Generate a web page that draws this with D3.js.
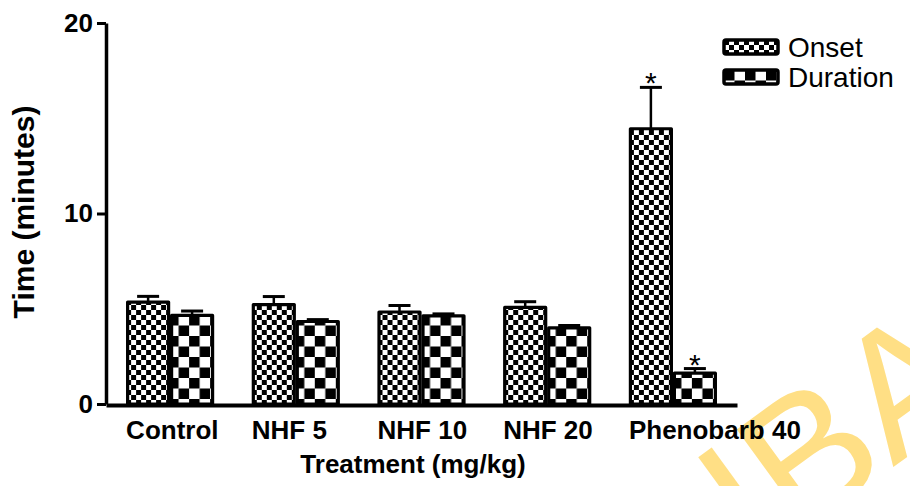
<!DOCTYPE html>
<html>
<head>
<meta charset="utf-8">
<script src="https://cdn.jsdelivr.net/npm/d3@7"></script>
<style>
  body { margin: 0; background: #fff; }
  svg { display: block; font-family: "Liberation Sans", Arial, sans-serif; }
</style>
</head>
<body>
<div id="chart-area"></div>
<script>
// data
var categories = ["Control", "NHF 5", "NHF 10", "NHF 20", "Phenobarb 40"];
var seriesNames = ["Onset", "Duration"];
var onset = [5.35, 5.22, 4.83, 5.07, 14.45];
var onsetErr = [0.3, 0.42, 0.34, 0.3, 2.17];
var duration = [4.65, 4.33, 4.63, 4.0, 1.62];
var durationErr = [0.23, 0.1, 0.1, 0.12, 0.24];
var onsetSig = ["", "", "", "", "*"];
var durationSig = ["", "", "", "", "*"];
var yTicks = [0, 10, 20];

var W = 910, H = 486;

var svg = d3.select("#chart-area")
    .append("svg")
    .attr("width", W)
    .attr("height", H);

// checkerboard patterns
var defs = svg.append("defs");
function checker(id, s) {
    var p = defs.append("pattern")
        .attr("id", id)
        .attr("patternUnits", "userSpaceOnUse")
        .attr("width", s * 2)
        .attr("height", s * 2);
    p.append("rect").attr("width", s * 2).attr("height", s * 2).attr("fill", "#fff");
    p.append("rect").attr("width", s).attr("height", s).attr("fill", "#000");
    p.append("rect").attr("x", s).attr("y", s).attr("width", s).attr("height", s).attr("fill", "#000");
}
checker("pat-onset", 5);
checker("pat-duration", 10.5);
var patterns = { Onset: "url(#pat-onset)", Duration: "url(#pat-duration)" };

// watermark (partly off the page, as in the original)
svg.append("text")
    .attr("transform", "translate(757,566) rotate(-36)")
    .attr("font-size", 178)
    .attr("fill", "#FFDF85")
    .text("IBA");

// SCALES
var x = d3.scaleBand()
    .domain(categories)
    .range([106, 737])
    .paddingInner(0.3)
    .paddingOuter(0.16);

var xs = d3.scaleBand()
    .domain(seriesNames)
    .range([0, x.bandwidth()]);

var y = d3.scaleLinear()
    .domain([0, 20])
    .range([404, 23]);

var rows = categories.map(function (c, i) {
    return [
        { cat: c, key: "Onset", v: onset[i], e: onsetErr[i], sig: onsetSig[i] },
        { cat: c, key: "Duration", v: duration[i], e: durationErr[i], sig: durationSig[i] }
    ];
});

var groups = svg.selectAll("g.grp")
    .data(rows)
    .enter()
    .append("g")
    .attr("class", "grp")
    .attr("transform", function (d) { return "translate(" + x(d[0].cat) + ",0)"; });

var bars = groups.selectAll("g.bar")
    .data(function (d) { return d; })
    .enter()
    .append("g")
    .attr("class", "bar");

// error bars (upper only)
bars.append("line")
    .attr("x1", function (d) { return xs(d.key) + xs.bandwidth() / 2; })
    .attr("x2", function (d) { return xs(d.key) + xs.bandwidth() / 2; })
    .attr("y1", function (d) { return y(d.v); })
    .attr("y2", function (d) { return y(d.v + d.e); })
    .attr("stroke", "#000")
    .attr("stroke-width", 2.5);
bars.append("line")
    .attr("x1", function (d) { return xs(d.key) + xs.bandwidth() / 2 - 11; })
    .attr("x2", function (d) { return xs(d.key) + xs.bandwidth() / 2 + 11; })
    .attr("y1", function (d) { return y(d.v + d.e); })
    .attr("y2", function (d) { return y(d.v + d.e); })
    .attr("stroke", "#000")
    .attr("stroke-width", 3);

bars.append("rect")
    .attr("x", function (d) { return xs(d.key) + 1.5; })
    .attr("y", function (d) { return y(d.v); })
    .attr("width", xs.bandwidth() - 3)
    .attr("height", function (d) { return y(0) - y(d.v); })
    .attr("fill", function (d) { return patterns[d.key]; })
    .attr("stroke", "#000")
    .attr("stroke-width", 3.2)
    .attr("stroke-linejoin", "round");

bars.filter(function (d) { return d.sig; })
    .append("text")
    .attr("x", function (d) { return xs(d.key) + xs.bandwidth() / 2; })
    .attr("y", function (d) { return y(d.v + d.e) + 6; })
    .attr("text-anchor", "middle")
    .attr("font-size", 30)
    .text(function (d) { return d.sig; });

// AXES
var yAxis = svg.append("g")
    .attr("transform", "translate(106,0)")
    .call(d3.axisLeft(y).tickValues(yTicks).tickSize(9).tickSizeOuter(0).tickPadding(4));
yAxis.select(".domain").attr("stroke-width", 3.5);
yAxis.selectAll(".tick line").attr("stroke-width", 3);
yAxis.selectAll(".tick text")
    .attr("font-size", 26)
    .attr("font-weight", "bold")
    .attr("font-family", "Liberation Sans, Arial, sans-serif")
    .attr("fill", "#000");

var xAxis = svg.append("g")
    .attr("transform", "translate(0,405)")
    .call(d3.axisBottom(x).tickSize(0).tickSizeOuter(0));
xAxis.select(".domain").attr("stroke-width", 4);
xAxis.selectAll(".tick text")
    .attr("text-anchor", "start")
    .attr("x", -x.bandwidth() / 2)
    .attr("y", 34)
    .attr("dy", 0)
    .attr("font-size", 26)
    .attr("font-weight", "bold")
    .attr("font-family", "Liberation Sans, Arial, sans-serif")
    .attr("fill", "#000");

// axis titles
svg.append("text")
    .attr("x", 413)
    .attr("y", 473)
    .attr("text-anchor", "middle")
    .attr("font-size", 26)
    .attr("font-weight", "bold")
    .text("Treatment (mg/kg)");

svg.append("text")
    .attr("transform", "translate(34,212) rotate(-90)")
    .attr("text-anchor", "middle")
    .attr("font-size", 30)
    .attr("font-weight", "bold")
    .text("Time (minutes)");

// LEGEND
var legend = svg.selectAll("g.leg")
    .data(seriesNames)
    .enter()
    .append("g")
    .attr("class", "leg")
    .attr("transform", function (d, i) { return "translate(724," + (40 + i * 30) + ")"; });
legend.append("rect")
    .attr("width", 54)
    .attr("height", 14)
    .attr("rx", 2)
    .attr("fill", function (d) { return patterns[d]; })
    .attr("stroke", "#000")
    .attr("stroke-width", 3.5);
legend.append("text")
    .attr("x", 64)
    .attr("y", 17)
    .attr("font-size", 28)
    .text(function (d) { return d; });
</script>
</body>
</html>
